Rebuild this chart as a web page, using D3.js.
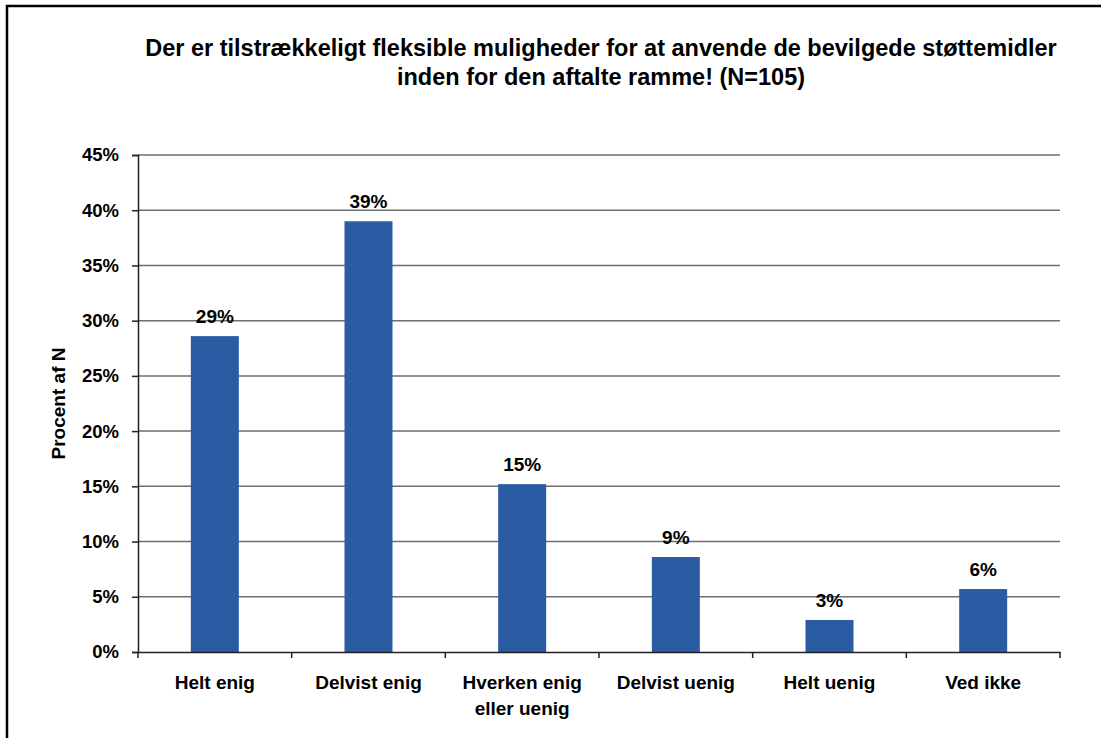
<!DOCTYPE html>
<html><head><meta charset="utf-8">
<script src="https://cdn.jsdelivr.net/npm/d3@7"></script>
<style>
html,body{margin:0;padding:0;background:#fff;}
svg{display:block;font-family:"Liberation Sans",Arial,sans-serif;font-weight:bold;}
</style></head>
<body>
<svg id="chart" width="1101" height="738"></svg>
<script>
const categories = [["Helt enig"],["Delvist enig"],["Hverken enig","eller uenig"],["Delvist uenig"],["Helt uenig"],["Ved ikke"]];
const values = [28.6, 39.0, 15.2, 8.6, 2.9, 5.7];
const valueLabels = ["29%","39%","15%","9%","3%","6%"];
const yTicks = [0,5,10,15,20,25,30,35,40,45];
const titleLines = ["Der er tilstrækkeligt fleksible muligheder for at anvende de bevilgede støttemidler","inden for den aftalte ramme! (N=105)"];
const yTitle = "Procent af N";

(function(){
const svg = d3.select("#chart");
const pL = 138, pR = 1060, pT = 155, pB = 652;

svg.append("rect").attr("x",7).attr("y",6).attr("width",1200).attr("height",800)
  .attr("fill","none").attr("stroke","#000").attr("stroke-width",2.5);

const xb = d3.scaleBand().domain(d3.range(categories.length)).range([pL,pR]);
const y = d3.scaleLinear().domain([0,45]).range([pB,pT]);

svg.append("g").selectAll("line").data(yTicks.filter(d=>d>0)).join("line")
  .attr("x1",pL).attr("x2",pR).attr("y1",d=>y(d)).attr("y2",d=>y(d))
  .attr("stroke","#6e6e6e").attr("stroke-width",1.5);

svg.append("g").selectAll("rect").data(values).join("rect")
  .attr("x",(d,i)=>xb(i)+xb.bandwidth()/2-24).attr("width",48)
  .attr("y",d=>y(d)).attr("height",d=>pB-y(d)).attr("fill","#2a5ba3");

svg.append("g").selectAll("text").data(values).join("text")
  .attr("x",(d,i)=>xb(i)+xb.bandwidth()/2).attr("y",d=>y(d)-13)
  .attr("text-anchor","middle").attr("font-size",19).attr("fill","#000")
  .text((d,i)=>valueLabels[i]);

const yAxis = d3.axisLeft(y).tickValues(yTicks).tickSize(6).tickPadding(13).tickFormat(d=>d+"%");
const ga = svg.append("g").attr("transform",`translate(${pL},0)`).call(yAxis);
ga.select(".domain").attr("stroke","#222").attr("stroke-width",1.5);
ga.selectAll(".tick line").attr("stroke","#222").attr("stroke-width",1.5);
ga.selectAll(".tick text").attr("font-size",18.5).attr("font-family","Liberation Sans, Arial, sans-serif").attr("font-weight","bold").attr("fill","#000");

const xAxis = d3.axisBottom(xb).tickSize(0).tickFormat("");
const gx = svg.append("g").attr("transform",`translate(0,${pB})`).call(xAxis);
gx.select(".domain").attr("stroke","#222").attr("stroke-width",1.5);
gx.selectAll(".tick").remove();
const boundaries = d3.range(categories.length+1).map(i=> i<categories.length ? xb(i) : xb(i-1)+xb.bandwidth());
svg.append("g").selectAll("line").data(boundaries).join("line")
  .attr("x1",d=>d).attr("x2",d=>d).attr("y1",pB).attr("y2",pB+6)
  .attr("stroke","#222").attr("stroke-width",1.5);

const cl = svg.append("g").selectAll("text").data(categories).join("text")
  .attr("text-anchor","middle").attr("font-size",19).attr("fill","#000");
cl.each(function(d,i){
  const t = d3.select(this);
  d.forEach((line,j)=>{
    t.append("tspan").attr("x",xb(i)+xb.bandwidth()/2).attr("y",689+j*26).text(line);
  });
});

svg.append("text").attr("transform",`translate(65,${(pT+pB)/2}) rotate(-90)`)
  .attr("text-anchor","middle").attr("font-size",19).attr("fill","#000").text(yTitle);

svg.append("g").selectAll("text").data(titleLines).join("text")
  .attr("x",601).attr("y",(d,i)=>56+i*29).attr("text-anchor","middle")
  .attr("font-size",23.5).attr("fill","#000").text(d=>d);
})();
</script>
</body></html>
